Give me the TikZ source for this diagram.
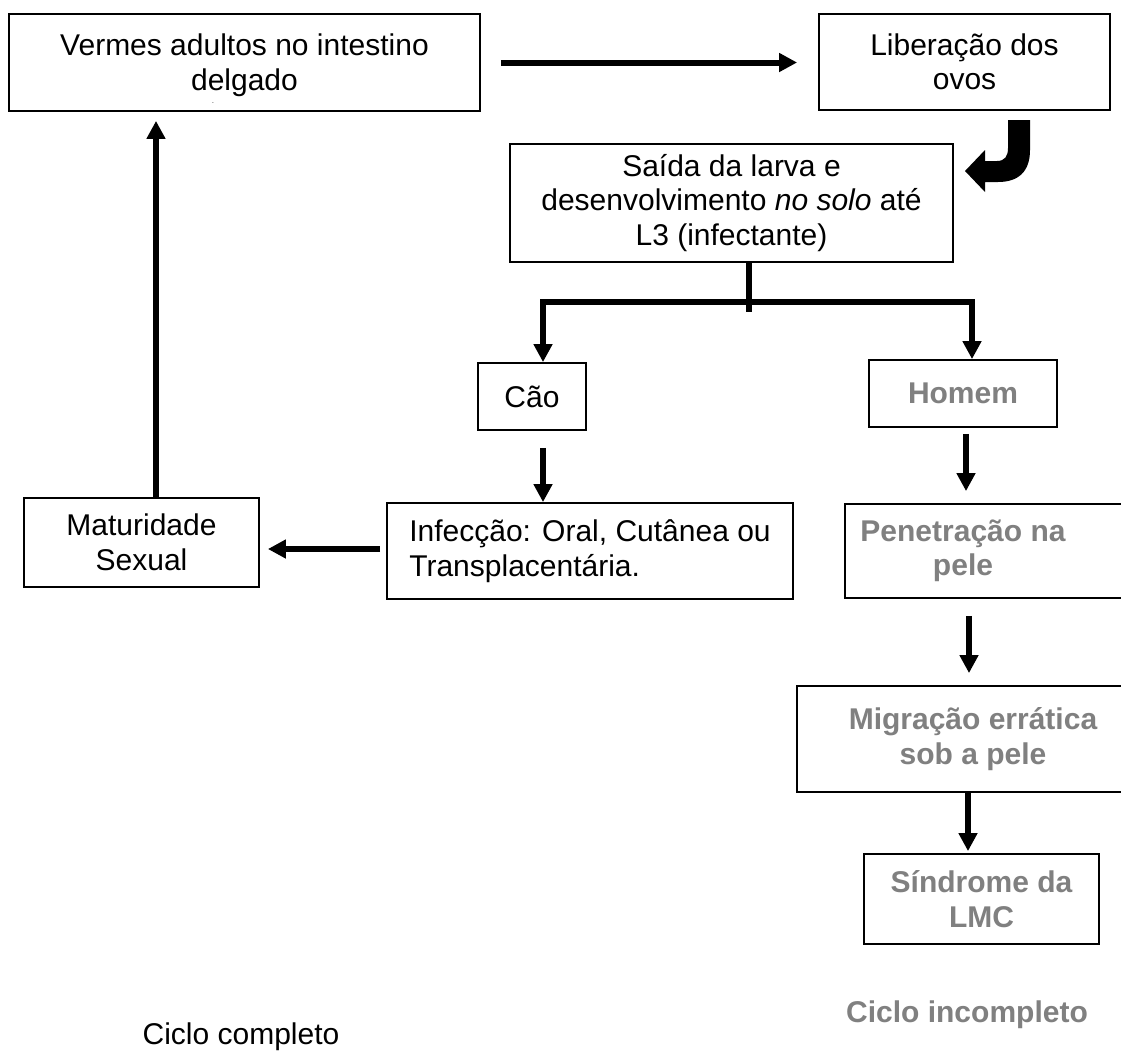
\documentclass[tikz,border=0pt]{standalone}
\usepackage{fontspec}
\setmainfont{Liberation Sans}
\usetikzlibrary{arrows.meta}
\definecolor{txtgray}{RGB}{128,128,128}
\begin{document}
\begin{tikzpicture}[x=1pt,y=-1pt,
  box/.style={draw=black, line width=1.8pt, inner sep=0pt, align=center, font=\fontsize{30}{34.5}\selectfont},
  gbox/.style={draw=black, line width=1.8pt, inner sep=0pt},
  btext/.style={inner sep=0pt, align=center, font=\fontsize{30}{34.5}\selectfont},
  gtext/.style={inner sep=0pt, align=center, text=txtgray, font=\fontsize{30}{34.5}\selectfont\bfseries},
  arr/.style={line width=6pt, line join=miter, -{Triangle[length=18pt,width=18pt]}},
  conn/.style={line width=6pt},
]
\useasboundingbox[fill=white] (0,0) rectangle (1121,1053);

% boxes
\node[gbox, minimum width=471pt, minimum height=97pt] (ver) at (244.5,62.5) {};
\node[btext] (vert) at (244.5,65) {Vermes adultos no intestino\\delgado};
\node[inner sep=0pt, font=\fontsize{5}{5}\selectfont] (dot) at (213,104) {-};
\node[box, minimum width=291pt, minimum height=96pt] (lib) at (964.5,62) {Liberação dos\\ovos};
\node[box, minimum width=443pt, minimum height=118pt] (sai) at (731.5,203) {Saída da larva e\\desenvolvimento \textit{no solo} até\\L3 (infectante)};
\node[box, minimum width=108pt, minimum height=67pt] (cao) at (532,396.5) {Cão};
\node[box, minimum width=406pt, minimum height=96pt, align=left] (inf) at (590,551) {Infecção: Oral, Cutânea ou\\Transplacentária.};
\node[box, minimum width=235pt, minimum height=89pt] (mat) at (141.5,542.5) {Maturidade\\Sexual};

\node[gbox, minimum width=188pt, minimum height=67pt] (hom) at (963,393.5) {};
\node[gtext] at (hom.center) {Homem};
\node[gbox, minimum width=295pt, minimum height=94pt] (pen) at (992.5,551) {};
\node[gtext] (pent) at (963,551) {Penetração na\\pele};
\node[gbox, minimum width=343pt, minimum height=106pt] (mig) at (968.5,739) {};
\node[gtext] (migt) at (973,739) {Migração errática\\sob a pele};
\node[gbox, minimum width=235pt, minimum height=90pt] (sin) at (981.5,899) {};
\node[gtext] at (sin.center) {Síndrome da\\LMC};

\node[gtext] (cinc) at (967,1015) {Ciclo incompleto};
\node[btext] (ccomp) at (241,1037) {Ciclo completo};

% column coordinates
\coordinate (xstem) at (749,0);
\coordinate (xcao) at (543,0);
\coordinate (xhom) at (972,0);
\coordinate (xh2) at (966,0);
\coordinate (xp2) at (969,0);
\coordinate (xm2) at (968,0);
\coordinate (xmat) at (156,0);
\coordinate (ybar) at (0,302);
\coordinate (yend) at (0,312);
\coordinate (ylr) at (0,549);

% connectors
\draw[arr, shorten <=20pt, shorten >=21pt] (ver.east) -- (ver.east -| lib.west);
\draw[conn] (xstem |- sai.south) -- (xstem |- yend);
\coordinate (jmid) at (xstem |- ybar);
\draw[arr] (jmid) -- (xcao |- ybar) -- (xcao |- cao.north);
\draw[arr] (jmid) -- (xhom |- ybar) -- (xhom |- hom.north);
\draw[arr, shorten <=17pt] (xcao |- cao.south) -- (xcao |- inf.north);
\draw[arr, shorten <=6pt, shorten >=8pt] (inf.west |- ylr) -- (mat.east |- ylr);
\draw[arr, shorten >=9pt] (xmat |- mat.north) -- (xmat |- ver.south);
\draw[arr, shorten <=6pt, shorten >=12pt] (xh2 |- hom.south) -- (xh2 |- pen.north);
\draw[arr, shorten <=17pt, shorten >=12pt] (xp2 |- pen.south) -- (xp2 |- mig.north);
\draw[arr, shorten >=2pt] (xm2 |- mig.south) -- (xm2 |- sin.north);

% curved block arrow
\fill[black] (1008,120) -- (1030,120) -- (1030,150)
  .. controls (1030,172) and (1018,182) .. (998,182)
  -- (985,182) -- (985,192) -- (965,171) -- (985,150) -- (985,161) -- (997,161)
  .. controls (1005,161) and (1008,156) .. (1008,148) -- cycle;
\end{tikzpicture}
\end{document}
